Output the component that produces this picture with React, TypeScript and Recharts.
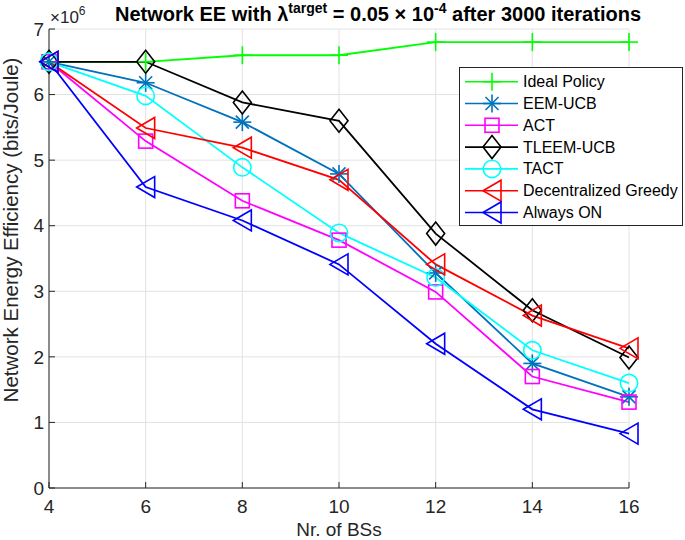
import React from 'react'
import { LineChart, Line, XAxis, YAxis, CartesianGrid } from 'recharts'

// x: number of base stations
const bsCounts = [4, 6, 8, 10, 12, 14, 16]

// network EE, in units of 1e6 bits/Joule
const idealPolicy = [6.5, 6.5, 6.6, 6.6, 6.8, 6.8, 6.8]
const eemUcb = [6.5, 6.18, 5.58, 4.79, 3.28, 1.9, 1.39]
const act = [6.5, 5.29, 4.38, 3.78, 2.99, 1.7, 1.31]
const tleemUcb = [6.5, 6.5, 5.88, 5.6, 3.88, 2.71, 1.99]
const tact = [6.5, 5.98, 4.89, 3.89, 3.21, 2.1, 1.6]
const decGreedy = [6.5, 5.49, 5.19, 4.7, 3.41, 2.63, 2.13]
const alwaysOn = [6.5, 4.59, 4.08, 3.41, 2.2, 1.2, 0.83]

const xTicks = [4, 6, 8, 10, 12, 14, 16]
const yTicks = [0, 1, 2, 3, 4, 5, 6, 7]

type Shape = 'plus' | 'star' | 'square' | 'diamond' | 'circle' | 'triLeft'

const SERIES: { key: string; name: string; color: string; shape: Shape; values: number[] }[] = [
  { key: 'ideal', name: 'Ideal Policy', color: '#00ff00', shape: 'plus', values: idealPolicy },
  { key: 'eem', name: 'EEM-UCB', color: '#0072bd', shape: 'star', values: eemUcb },
  { key: 'act', name: 'ACT', color: '#ff00ff', shape: 'square', values: act },
  { key: 'tleem', name: 'TLEEM-UCB', color: '#000000', shape: 'diamond', values: tleemUcb },
  { key: 'tact', name: 'TACT', color: '#00ffff', shape: 'circle', values: tact },
  { key: 'greedy', name: 'Decentralized Greedy', color: '#ff0000', shape: 'triLeft', values: decGreedy },
  { key: 'always', name: 'Always ON', color: '#0000ff', shape: 'triLeft', values: alwaysOn },
]

const data = bsCounts.map((bs, i) => {
  const row: { [k: string]: number } = { bs }
  SERIES.forEach((s) => {
    row[s.key] = s.values[i]
  })
  return row
})

const FONT = '"Liberation Sans", Arial, Helvetica, sans-serif'
const AXIS = '#262626'

function Marker({ shape, cx, cy, color }: { shape: Shape; cx: number; cy: number; color: string }) {
  const sw = 1.6
  switch (shape) {
    case 'plus':
      return (
        <g stroke={color} strokeWidth={sw} fill="none">
          <line x1={cx - 9} y1={cy} x2={cx + 9} y2={cy} />
          <line x1={cx} y1={cy - 9} x2={cx} y2={cy + 9} />
        </g>
      )
    case 'star':
      return (
        <g stroke={color} strokeWidth={sw} fill="none">
          <line x1={cx - 9} y1={cy} x2={cx + 9} y2={cy} />
          <line x1={cx} y1={cy - 9} x2={cx} y2={cy + 9} />
          <line x1={cx - 6.5} y1={cy - 6.5} x2={cx + 6.5} y2={cy + 6.5} />
          <line x1={cx - 6.5} y1={cy + 6.5} x2={cx + 6.5} y2={cy - 6.5} />
        </g>
      )
    case 'square':
      return <rect x={cx - 7} y={cy - 7} width={14} height={14} stroke={color} strokeWidth={sw} fill="none" />
    case 'diamond':
      return (
        <polygon
          points={`${cx},${cy - 11.5} ${cx + 9},${cy} ${cx},${cy + 11.5} ${cx - 9},${cy}`}
          stroke={color}
          strokeWidth={sw}
          fill="none"
        />
      )
    case 'circle':
      return <circle cx={cx} cy={cy} r={8.7} stroke={color} strokeWidth={sw} fill="none" />
    case 'triLeft':
      return (
        <polygon
          points={`${cx - 9},${cy} ${cx + 9},${cy - 10.5} ${cx + 9},${cy + 10.5}`}
          stroke={color}
          strokeWidth={sw}
          fill="none"
        />
      )
  }
  return null
}

function Overlay() {
  const legendTop = 81.7
  const rowGap = 21.8
  return (
    <svg
      width={685}
      height={540}
      style={{ position: 'absolute', left: 0, top: 0, pointerEvents: 'none' }}
      fontFamily={FONT}
    >
      {/* title */}
      <text x={378} y={21} textAnchor="middle" fontSize={20} fontWeight="bold" fill="#000">
        Network EE with λ
        <tspan dy={-8} fontSize={14}>target</tspan>
        <tspan dy={8} fontSize={20}> = 0.05 × 10</tspan>
        <tspan dy={-8} fontSize={14}>-4</tspan>
        <tspan dy={8} fontSize={20}> after 3000 iterations</tspan>
      </text>
      {/* exponent */}
      <text x={50} y={23} fontSize={17} fill={AXIS}>
        ×10
        <tspan dy={-8} fontSize={12}>6</tspan>
      </text>
      {/* axis titles */}
      <text x={339} y={536} textAnchor="middle" fontSize={19} fill={AXIS}>
        Nr. of BSs
      </text>
      <text transform="translate(18,230) rotate(-90)" textAnchor="middle" fontSize={20.5} fill={AXIS}>
        Network Energy Efficiency (bits/Joule)
      </text>
      {/* legend */}
      <rect x={459.5} y={67.5} width={223} height={158} fill="#fff" stroke={AXIS} strokeWidth={1} />
      {SERIES.map((s, i) => {
        const y = legendTop + i * rowGap
        return (
          <g key={s.key}>
            <line x1={465} y1={y} x2={518} y2={y} stroke={s.color} strokeWidth={1.6} />
            <Marker shape={s.shape} cx={492} cy={y} color={s.color} />
            <text x={523} y={y + 5.5} fontSize={16} fill="#000">
              {s.name}
            </text>
          </g>
        )
      })}
    </svg>
  )
}

export default function App() {
  return (
    <div style={{ position: 'relative', width: 685, height: 540, background: '#fff' }}>
      <style>{'body{margin:0}'}</style>
      <LineChart width={685} height={540} data={data} margin={{ top: 29, right: 56, left: 0, bottom: 0 }}>
        <CartesianGrid stroke="#e2e2e2" strokeWidth={1} />
        <XAxis
          dataKey="bs"
          type="number"
          domain={[4, 16]}
          ticks={xTicks}
          height={52}
          tickSize={-6}
          tickMargin={18}
          stroke={AXIS}
          tick={{ fill: AXIS, fontSize: 19, fontFamily: FONT }}
        />
        <YAxis
          type="number"
          domain={[0, 7]}
          ticks={yTicks}
          width={49}
          tickSize={-6}
          tickMargin={11}
          stroke={AXIS}
          tick={{ fill: AXIS, fontSize: 19, fontFamily: FONT }}
        />
        {SERIES.map((s) => (
          <Line
            key={s.key}
            type="linear"
            dataKey={s.key}
            name={s.name}
            stroke={s.color}
            strokeWidth={1.8}
            isAnimationActive={false}
            activeDot={false}
            dot={(p: any) => (
              <Marker key={`${s.key}-${p.index}`} shape={s.shape} cx={p.cx} cy={p.cy} color={s.color} />
            )}
          />
        ))}
      </LineChart>
      <Overlay />
    </div>
  )
}
